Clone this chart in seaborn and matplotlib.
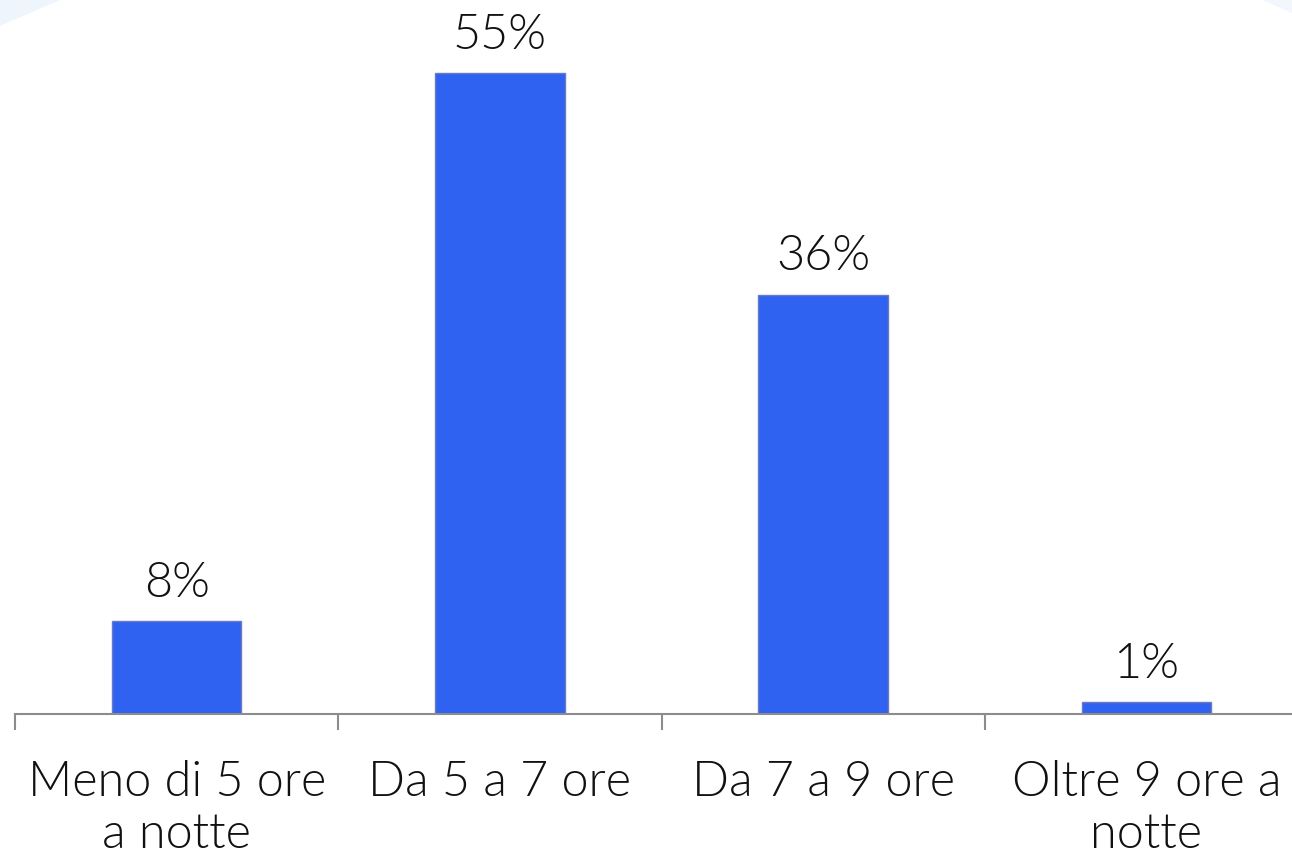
import pandas as pd
import matplotlib.pyplot as plt
import seaborn as sns
from matplotlib.patches import Polygon

categories = ["Meno di 5 ore\na notte", "Da 5 a 7 ore", "Da 7 a 9 ore", "Oltre 9 ore a\nnotte"]
values = [8, 55, 36, 1]

df = pd.DataFrame({"categoria": categories, "valore": values})

sns.set_style("white")
plt.rcParams["font.family"] = ["Lato", "DejaVu Sans"]

fig = plt.figure(figsize=(12.92, 8.65), dpi=100)

# faint background corners of the card
fig.patches.append(Polygon([(0, 1), (60 / 1292, 1), (0, 1 - 26 / 865)], closed=True,
                           transform=fig.transFigure, facecolor="#eef5fd", edgecolor="none"))
fig.patches.append(Polygon([(1, 1), (1262 / 1292, 1), (1, 1 - 13 / 865)], closed=True,
                           transform=fig.transFigure, facecolor="#f1f7fd", edgecolor="none"))

ax = fig.add_axes([15 / 1292, (865 - 714) / 865, 1293 / 1292, 714 / 865])
ax.patch.set_alpha(0)

sns.barplot(data=df, x="categoria", y="valore", color="#3062f2", saturation=1,
            width=0.4, edgecolor="#6a7bc4", linewidth=1, ax=ax)

ax.set_xlim(-0.5, 3.5)
ax.set_ylim(0, 61.3)

for c in ax.containers:
    ax.bar_label(c, labels=[f"{v}%" for v in values], padding=11,
                 fontsize=35, fontweight=300, color="#111111")

sns.despine(ax=ax, left=True, top=True, right=True)
ax.spines["bottom"].set_color("#8c8c8c")
ax.spines["bottom"].set_linewidth(1.5)
ax.set_yticks([])
ax.set_xlabel("")
ax.set_ylabel("")

# boundary ticks between categories
ax.set_xticks([-0.5, 0.5, 1.5, 2.5], minor=True)
ax.tick_params(axis="x", which="minor", bottom=True, length=11.5, width=1.5, color="#8c8c8c", direction="out")
ax.tick_params(axis="x", which="major", length=0, pad=33, labelsize=35, labelcolor="#111111")
for t in ax.get_xticklabels():
    t.set_fontweight(300)

fig.savefig("out.png", dpi=100, facecolor="white")
